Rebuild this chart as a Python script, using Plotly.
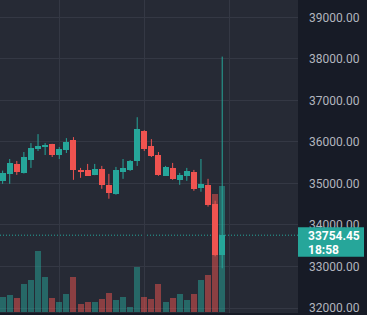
import plotly.graph_objects as go

# ---- data (5-minute candles, oldest first) ----
idx = list(range(32))
opens = [35071, 35231, 35471, 35255, 35566, 35854, 35902, 35949, 35686, 35806,
         36045, 35334, 35327, 35207, 35351, 34968, 34753, 35279, 35327, 35543,
         36261, 35902, 35686, 35184, 35375, 35088, 35184, 35279, 34896, 34968,
         34513, 33269]
highs = [35310, 35590, 35543, 35758, 35973, 36189, 35973, 35955, 35878, 36093,
         36117, 35375, 35471, 35471, 35423, 35231, 35399, 35590, 35566, 36596,
         36284, 36069, 35758, 35423, 35495, 35255, 35375, 35327, 35590, 35112,
         34585, 38056]
lows = [34992, 34992, 35207, 35240, 35375, 35782, 35686, 35638, 35590, 35734,
        35088, 35136, 35184, 35200, 34872, 34633, 34729, 35112, 35303, 35423,
        35782, 35638, 35184, 35180, 35088, 34968, 35064, 34824, 34801, 34442,
        33245, 32958]
closes = [35255, 35495, 35279, 35638, 35854, 35902, 35933, 35686, 35830, 35997,
          35327, 35286, 35184, 35351, 34968, 34777, 35327, 35375, 35543, 36308,
          35830, 35662, 35207, 35399, 35112, 35207, 35303, 34872, 34992, 34489,
          33269, 33754.45]
volumes = [150, 170, 140, 280, 320, 610, 350, 140, 100, 180,
           350, 80, 100, 100, 130, 190, 120, 150, 50, 450,
           150, 130, 280, 100, 140, 180, 120, 180, 320, 370,
           1190, 1270]
hour_marks = [8, 20, 32]
countdown = "18:58"

UP, DOWN = "#26a69a", "#ef5350"
UP_VOL, DOWN_VOL = "rgba(38,166,154,0.5)", "rgba(239,83,80,0.5)"
PLOT_BG, AXIS_BG, GRID, TXT = "#262a35", "#171b26", "#343844", "#b2b5be"
FONT = "Roboto"

is_up = [c >= o for o, c in zip(opens, closes)]

fig = go.Figure()

# volume (base axis, drawn behind the candles)
fig.add_trace(go.Bar(
    x=idx, y=volumes, width=0.85, yaxis="y",
    marker=dict(color=[UP_VOL if u else DOWN_VOL for u in is_up], line=dict(width=0)),
    hoverinfo="skip", showlegend=False))

# wicks
for flag, col in ((True, UP), (False, DOWN)):
    wx, wy = [], []
    for k, h, l, u in zip(idx, highs, lows, is_up):
        if u == flag:
            wx += [k, k, None]
            wy += [l, h, None]
    fig.add_trace(go.Scatter(x=wx, y=wy, mode="lines", yaxis="y2",
                             line=dict(color=col, width=1),
                             hoverinfo="skip", showlegend=False))

# bodies
fig.add_trace(go.Bar(
    x=idx,
    y=[abs(c - o) for o, c in zip(opens, closes)],
    base=[min(o, c) for o, c in zip(opens, closes)],
    width=0.85, yaxis="y2",
    marker=dict(color=[UP if u else DOWN for u in is_up], line=dict(width=0)),
    hoverinfo="skip", showlegend=False))

last = closes[-1]
last_col = UP if is_up[-1] else DOWN

fig.update_layout(
    width=367, height=315,
    margin=dict(l=0, r=69, t=0, b=0),
    paper_bgcolor=AXIS_BG, plot_bgcolor=PLOT_BG,
    barmode="overlay", bargap=0,
    font=dict(family=FONT, size=12, color=TXT),
    xaxis=dict(range=[-0.371, 41.70], tickvals=hour_marks, showticklabels=False,
               showgrid=True, gridcolor=GRID, gridwidth=1, zeroline=False,
               showline=False, ticks=""),
    yaxis=dict(range=[-10, 3140], visible=False, showgrid=False, zeroline=False),
    yaxis2=dict(overlaying="y", side="right", range=[31880, 39420],
                tick0=0, dtick=1000, tickformat=".2f",
                showgrid=True, gridcolor=GRID, gridwidth=1, zeroline=False,
                showline=False, ticks="", ticklabelstandoff=10,
                ticklabeloverflow="allow",
                tickfont=dict(family=FONT, size=12, color=TXT)),
    shapes=[
        dict(type="line", xref="paper", x0=0, x1=1, yref="y2", y0=last, y1=last,
             line=dict(color=last_col, width=1, dash="1px,2px"), layer="below"),
        dict(type="rect", xref="paper", xsizemode="pixel", xanchor=1, x0=0, x1=66,
             yref="y2", ysizemode="pixel", yanchor=last, y0=8, y1=-21.5,
             fillcolor=last_col, line=dict(width=0), layer="above"),
    ],
    annotations=[
        dict(xref="paper", x=1, xanchor="left", xshift=8, yref="y2", y=last,
             yanchor="middle", yshift=-1, showarrow=False,
             text="%.2f" % last,
             font=dict(family=FONT, size=12, color="#ffffff", weight=700)),
        dict(xref="paper", x=1, xanchor="left", xshift=8, yref="y2", y=last,
             yanchor="middle", yshift=-14.5, showarrow=False,
             text=countdown,
             font=dict(family=FONT, size=12, color="#ffffff", weight=700)),
    ],
)

fig.write_html("out.html", config={"displayModeBar": False})
